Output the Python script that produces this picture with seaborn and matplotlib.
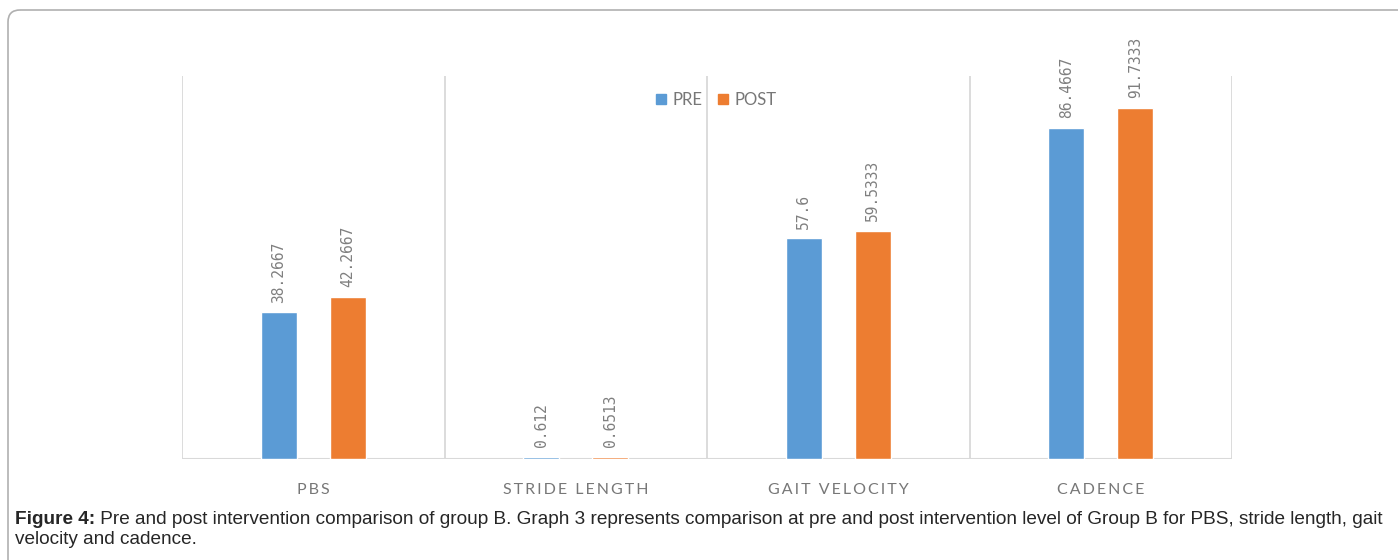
import matplotlib
matplotlib.use("Agg")
import matplotlib.pyplot as plt
import seaborn as sns
import pandas as pd
from matplotlib.patches import FancyBboxPatch
from matplotlib.lines import Line2D

categories = ["PBS", "STRIDE LENGTH", "GAIT VELOCITY", "CADENCE"]
groups = ["PRE", "POST"]
pre_values = [38.2667, 0.612, 57.6, 86.4667]
post_values = [42.2667, 0.6513, 59.5333, 91.7333]
colors = ["#5b9bd5", "#ed7d31"]
caption_bold = "Figure 4:"
caption_line1 = (" Pre and post intervention comparison of group B. Graph 3 represents "
                 "comparison at pre and post intervention level of Group B for PBS, stride length, gait")
caption_line2 = "velocity and cadence."

rows = []
for c, v in zip(categories, pre_values):
    rows.append({"cat": c, "grp": "PRE", "val": v})
for c, v in zip(categories, post_values):
    rows.append({"cat": c, "grp": "POST", "val": v})
df = pd.DataFrame(rows)

sns.set_theme(style="white")
plt.rcParams['font.family'] = ['Lato', 'DejaVu Sans']

W, H = 1398, 560
fig = plt.figure(figsize=(W / 100, H / 100), dpi=100)
fig.patch.set_facecolor("white")

# overlay for border
bg = fig.add_axes([0, 0, 1, 1])
bg.set_xlim(0, W)
bg.set_ylim(H, 0)
bg.axis("off")
bg.add_patch(FancyBboxPatch((8, 10), W + 40, H + 40,
                            boxstyle="round,pad=0,rounding_size=12",
                            fc="none", ec="#b0b0b0", lw=1.2))

ax = fig.add_axes([182 / W, 1 - 459 / H, (1232 - 182) / W, (459 - 76) / H])
ax.set_facecolor("none")
sns.barplot(data=df, x="cat", y="val", hue="grp", order=categories,
            hue_order=groups, palette=colors, width=0.526, gap=0.48,
            saturation=1, ax=ax, legend=False)
ax.set_ylim(0, 100)
ax.set_xlim(-0.5, len(categories) - 0.5)
for s in ax.spines.values():
    s.set_visible(False)
ax.set_yticks([])
ax.set_xlabel("")
ax.set_ylabel("")

# separators
for i in range(len(categories) + 1):
    ax.axvline(i - 0.5, color="#d9d9d9", lw=1.3, zorder=0)
ax.axhline(0, color="#d9d9d9", lw=1.5, zorder=0)

for cont in ax.containers:
    ax.bar_label(cont, labels=["%g" % b.get_height() for b in cont],
                 rotation=90, padding=7, color="#7f7f7f",
                 fontsize=10.5, family="DejaVu Sans Mono")

ax.set_xticks(range(len(categories)))
ax.set_xticklabels(["\u2009".join(c) for c in categories],
                   family=["Lato", "DejaVu Sans"], fontsize=11.5, color="#777777")
ax.tick_params(axis="x", length=0, pad=17)

handles = [Line2D([], [], marker="s", ls="none", color=c, markersize=7.5)
           for c in colors]
leg = ax.legend(handles, groups, loc="center", bbox_to_anchor=(0.5086, 0.937),
                ncol=2, frameon=False, handletextpad=0.35, columnspacing=0.9,
                handlelength=0.7, prop={"family": "Lato", "size": 12})
for t in leg.get_texts():
    t.set_color("#777777")

t1 = fig.text(15 / W, 1 - 519 / H, caption_bold, fontsize=13.65,
              family="Liberation Sans", weight="bold", va="center", ha="left")
fig.canvas.draw()
ax.annotate(caption_line1, xy=(1, 0.5), xycoords=t1, va="center", ha="left",
            fontsize=13.65, family="Liberation Sans", annotation_clip=False)
fig.text(15 / W, 1 - 539 / H, caption_line2, fontsize=13.65,
         family="Liberation Sans", va="center", ha="left")
fig.savefig("out.png", dpi=100)
